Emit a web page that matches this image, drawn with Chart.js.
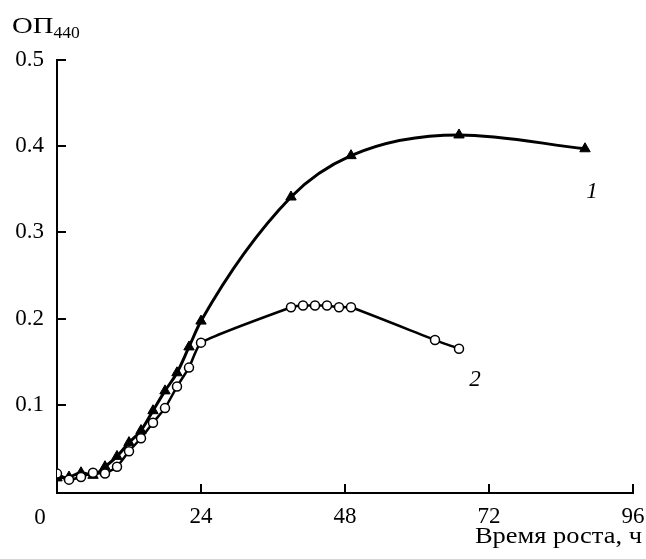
<!DOCTYPE html>
<html>
<head>
<meta charset="utf-8">
<script src="https://cdn.jsdelivr.net/npm/chart.js@4"></script>
<style>
  html, body { margin: 0; padding: 0; background: #fff; }
  #wrap { width: 646px; height: 559px; }
</style>
</head>
<body>
<div id="wrap"><canvas id="growth"></canvas></div>
<script>
// curve 1 (triangles)
const time1 = [0, 2, 4, 6, 8, 10, 12, 14, 16, 18, 20, 22, 24, 39, 49, 67, 88];
const od1 = [0.015, 0.016, 0.021, 0.018, 0.028, 0.04, 0.056, 0.07, 0.093, 0.116, 0.137, 0.167, 0.197, 0.341, 0.389, 0.413, 0.397];

// curve 2 (open circles)
const time2 = [0, 2, 4, 6, 8, 10, 12, 14, 16, 18, 20, 22, 24, 39, 41, 43, 45, 47, 49, 63, 67];
const od2 = [0.02, 0.013, 0.016, 0.021, 0.02, 0.028, 0.046, 0.061, 0.079, 0.096, 0.121, 0.143, 0.172, 0.213, 0.215, 0.215, 0.215, 0.213, 0.213, 0.175, 0.165];

const xTicks = [0, 24, 48, 72, 96];
const yTicks = [0.1, 0.2, 0.3, 0.4, 0.5];

const FONT = '"Liberation Serif", "DejaVu Serif", serif';

// text slightly stretched sideways, like the scan
function wideText(ctx, txt, x, y, sx) {
  ctx.save();
  ctx.translate(x, y);
  ctx.scale(sx, 1);
  ctx.fillText(txt, 0, 0);
  ctx.restore();
}

// inward tick marks, curve numbers, axis captions
const extras = {
  id: 'extras',
  afterDraw(chart) {
    const ctx = chart.ctx;
    const xs = chart.scales.x;
    const ys = chart.scales.y;
    const area = chart.chartArea;
    ctx.save();
    ctx.strokeStyle = '#000';
    ctx.lineWidth = 2;
    yTicks.forEach((v) => {
      const py = Math.round(ys.getPixelForValue(v));
      ctx.beginPath();
      ctx.moveTo(area.left, py);
      ctx.lineTo(area.left + 9, py);
      ctx.stroke();
    });
    xTicks.slice(1).forEach((v) => {
      const px = Math.round(xs.getPixelForValue(v));
      ctx.beginPath();
      ctx.moveTo(px, area.bottom);
      ctx.lineTo(px, area.bottom - 9);
      ctx.stroke();
    });

    ctx.fillStyle = '#000';
    ctx.textBaseline = 'alphabetic';
    // origin label
    ctx.font = '23px ' + FONT;
    ctx.textAlign = 'center';
    ctx.fillText('0', 40, 524);
    // y caption
    ctx.textAlign = 'left';
    ctx.font = '23px ' + FONT;
    const w = ctx.measureText('ОП').width * 1.25;
    wideText(ctx, 'ОП', 12, 33, 1.25);
    ctx.font = '16px ' + FONT;
    wideText(ctx, '440', 12 + w, 38, 1.1);
    // x caption
    ctx.textAlign = 'right';
    ctx.font = '23px ' + FONT;
    wideText(ctx, 'Время роста, ч', 642, 543, 1.15);
    // curve numbers
    ctx.textAlign = 'center';
    ctx.font = 'italic 23px ' + FONT;
    ctx.fillText('1', 592, 198);
    ctx.fillText('2', 475, 386);
    ctx.restore();
  },
};

new Chart(document.getElementById('growth'), {
  type: 'line',
  data: {
    datasets: [
      {
        label: '2',
        data: time2.map((t, i) => ({ x: t, y: od2[i] })),
        borderColor: '#000',
        borderWidth: 2.5,
        pointStyle: 'circle',
        pointRadius: 4.5,
        pointBorderWidth: 1.5,
        pointBackgroundColor: '#fff',
        pointBorderColor: '#000',
        tension: 0.15,
        order: 0,
      },
      {
        label: '1',
        data: time1.map((t, i) => ({ x: t, y: od1[i] })),
        borderColor: '#000',
        borderWidth: 3,
        pointStyle: 'triangle',
        pointRadius: 6,
        pointBorderWidth: 1,
        pointBackgroundColor: '#000',
        pointBorderColor: '#000',
        cubicInterpolationMode: 'monotone',
        order: 1,
      },
    ],
  },
  options: {
    responsive: true,
    maintainAspectRatio: false,
    animation: false,
    layout: { padding: { left: 0, right: 13, top: 60, bottom: 0 } },
    plugins: {
      legend: { display: false },
      tooltip: { enabled: false },
    },
    scales: {
      x: {
        type: 'linear',
        min: 0,
        max: 96,
        afterBuildTicks: (s) => { s.ticks = xTicks.map((v) => ({ value: v })); },
        afterFit: (s) => { s.height = 66; s.paddingLeft = 0; s.paddingRight = 0; },
        grid: { display: false, drawTicks: false },
        border: { display: true, color: '#000', width: 2 },
        ticks: {
          color: '#000',
          padding: 10,
          font: { family: FONT, size: 23 },
          callback: (v) => (v === 0 ? '' : String(v)),
        },
      },
      y: {
        type: 'linear',
        min: -0.0025,
        max: 0.5,
        afterBuildTicks: (s) => { s.ticks = yTicks.map((v) => ({ value: v })); },
        afterFit: (s) => { s.width = 57; s.paddingTop = 0; s.paddingBottom = 0; },
        grid: { display: false, drawTicks: false },
        border: { display: true, color: '#000', width: 2 },
        ticks: {
          color: '#000',
          padding: 13,
          font: { family: FONT, size: 23 },
          callback: (v) => v.toFixed(1),
        },
      },
    },
  },
  plugins: [extras],
});
</script>
</body>
</html>
